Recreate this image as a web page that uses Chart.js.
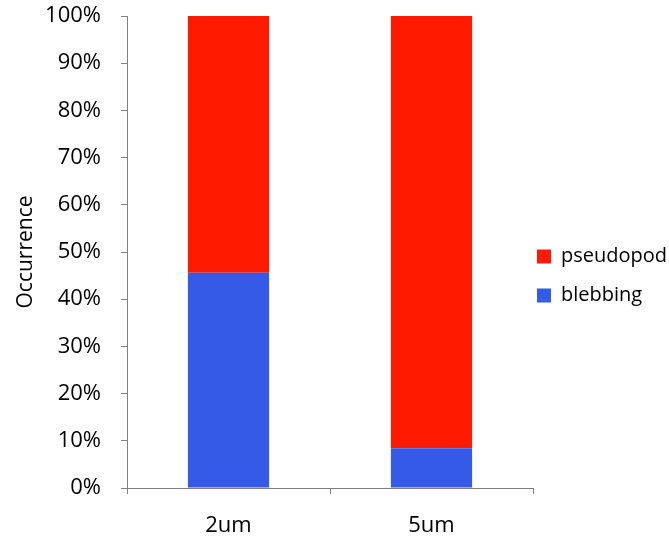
<!DOCTYPE html>
<html>
<head>
<meta charset="utf-8">
<script src="https://cdn.jsdelivr.net/npm/chart.js@4"></script>
<style>
  html, body { margin: 0; padding: 0; background: #fff; }
  #wrap { width: 669px; height: 536px; }
</style>
</head>
<body>
<div id="wrap"><canvas id="myChart" width="669" height="536"></canvas></div>
<script>
// Occurrence of each migration mode by pore size
const categories = ['2um', '5um'];
const blebbing = [45.6, 8.4];
const pseudopod = [54.4, 91.6];
const yTicks = [0, 10, 20, 30, 40, 50, 60, 70, 80, 90, 100];

const FONT = "'Open Sans', sans-serif";
const axisColor = '#808080';

// nudge the legend block after layout so it sits close to the plot
const legendNudge = {
    id: 'legendNudge',
    afterLayout(chart, args, opts) {
        const lg = chart.legend;
        if (!lg) return;
        lg.left += opts.dx;
        lg.right += 30;
        lg.top += opts.dy; lg.bottom += opts.dy;
    }
};

const ctx = document.getElementById('myChart').getContext('2d');
const myChart = new Chart(ctx, {
    type: 'bar',
    data: {
        labels: categories,
        datasets: [
            {
                label: 'blebbing',
                data: blebbing,
                backgroundColor: '#355ae8',
                borderWidth: 0
            },
            {
                label: 'pseudopod',
                data: pseudopod,
                backgroundColor: '#ff1a00',
                borderWidth: 0
            }
        ]
    },
    plugins: [legendNudge],
    options: {
        responsive: false,
        animation: false,
        layout: { padding: { top: 16, left: 13, right: 0, bottom: 0 } },
        datasets: {
            bar: { barPercentage: 0.4, categoryPercentage: 1.0 }
        },
        plugins: {
            tooltip: { enabled: false },
            legendNudge: { dx: -15, dy: 0 },
            legend: {
                position: 'right',
                reverse: true,
                maxWidth: 136,
                labels: {
                    color: '#000',
                    font: { family: FONT, size: 20 },
                    boxWidth: 14,
                    boxHeight: 14,
                    padding: 19
                }
            }
        },
        scales: {
            x: {
                stacked: true,
                grid: {
                    display: true,
                    drawOnChartArea: false,
                    drawTicks: true,
                    tickLength: 6,
                    color: axisColor
                },
                border: { display: true, color: axisColor, width: 1 },
                ticks: {
                    color: '#000',
                    font: { family: FONT, size: 22 },
                    padding: 19
                },
                afterFit: function(scale) {
                    scale.height = 48;
                    scale.paddingLeft = 0;
                    scale.paddingRight = 0;
                }
            },
            y: {
                stacked: true,
                min: 0,
                max: 100,
                grid: {
                    display: true,
                    drawOnChartArea: false,
                    drawTicks: true,
                    tickLength: 6,
                    color: axisColor
                },
                border: { display: true, color: axisColor, width: 1 },
                afterBuildTicks: function(scale) {
                    scale.ticks = yTicks.map(v => ({ value: v }));
                },
                ticks: {
                    color: '#000',
                    font: { family: FONT, size: 22 },
                    padding: 20,
                    callback: v => v + '%'
                },
                title: {
                    display: true,
                    text: 'Occurrence',
                    color: '#000',
                    font: { family: FONT, size: 21 },
                    padding: { top: 0, bottom: 6 }
                },
                afterFit: function(scale) {
                    scale.width = 114;
                    scale.paddingTop = 0;
                    scale.paddingBottom = 0;
                }
            }
        }
    }
});
</script>
</body>
</html>
